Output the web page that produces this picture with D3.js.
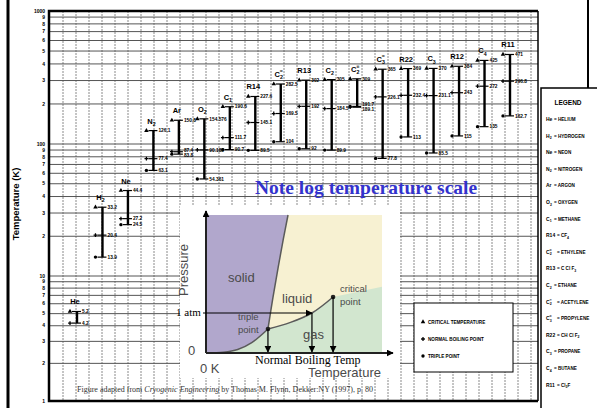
<!DOCTYPE html>
<html>
<head>
<meta charset="utf-8">
<script src="https://cdn.jsdelivr.net/npm/d3@7"></script>
<style>
body { margin: 0; background: #fff; }
svg { display: block; }
</style>
</head>
<body>
<script>
// substances, left to right
const categories = ["He", "H2", "Ne", "N2", "Ar", "O2", "C1", "R14", "C2=", "R13", "C2", "C2≡", "C3=", "R22", "C3", "R12", "C4", "R11"];
const criticalTemp = [5.2, 33.2, 44.4, 126.1, 150.8, 154.576, 190.6, 227.6, 282.5, 302, 305, 309, 365, 369, 370, 384, 425, 471];
const boilingPoint = [4.2, 20.4, 27.2, 77.4, 87.4, 90.188, 111.7, 145.1, 169.5, 192, 184.5, 189.1, 226.1, 232.4, 231.1, 243, 272, 296.8];
const triplePoint = [null, 13.9, 24.5, 63.1, 83.8, 54.361, 90.7, 89.5, 104, 92, 89.9, 191.7, 77.8, 113, 85.5, 115, 135, 162.7];

const yTicks = [1, 2, 3, 4, 5, 6, 7, 8, 9, 10, 20, 30, 40, 50, 60, 70, 80, 90, 100, 200, 300, 400, 500, 600, 700, 800, 900, 1000];
const yTickLabels = ["1", "2", "3", "4", "5", "6", "7", "8", "9", "10", "2", "3", "4", "5", "6", "7", "8", "9", "100", "2", "3", "4", "5", "6", "7", "8", "9", "1000"];

const legendKeys = ["He", "H2", "Ne", "N2", "Ar", "O2", "C1", "R14", "C2=", "R13", "C2", "C2≡", "C3=", "R22", "C3", "C4", "R11"];
const legendNames = ["HELIUM", "HYDROGEN", "NEON", "NITROGEN", "ARGON", "OXYGEN", "METHANE", "CF_4", "ETHYLENE", "C Cl F_3", "ETHANE", "ACETYLENE", "PROPYLENE", "CH Cl F_2", "PROPANE", "BUTANE", "Cl_3F"];
const symbolKeys = ["critical", "boiling", "triple"];
const symbolNames = ["CRITICAL TEMPERATURE", "NORMAL BOILING POINT", "TRIPLE POINT"];

// inset phase diagram, unit coordinates (temperature, pressure)
const sublimationCurve = [[0, 0], [0.1, 0.005], [0.18, 0.025], [0.26, 0.075], [0.352, 0.174]];
const fusionCurve = [[0.352, 0.174], [0.38, 0.4], [0.41, 0.62], [0.44, 0.83], [0.466, 1]];
const vaporCurve = [[0.352, 0.174], [0.48, 0.222], [0.602, 0.29], [0.722, 0.406]];
const tripleXY = [0.352, 0.174];
const criticalXY = [0.722, 0.406];
const oneAtmXY = [0.602, 0.29];

const W = 597, H = 408;
const svg = d3.select("body").append("svg").attr("width", W).attr("height", H);

const defs = svg.append("defs");
defs.append("marker").attr("id", "arr")
    .attr("viewBox", "0 0 10 10").attr("refX", 9).attr("refY", 5)
    .attr("markerWidth", 7).attr("markerHeight", 7).attr("orient", "auto")
    .attr("markerUnits", "userSpaceOnUse")
    .append("path").attr("d", "M0,0L10,5L0,10Z").attr("fill", "#000");

const plotL = 49, plotR = 538, plotT = 11, plotB = 401;
const y = d3.scaleLog().domain([1, 10, 100, 1000]).range([401, 276, 144, 11]);
const x = d3.scalePoint().domain(categories).range([77, 510]);

// grid
const grid = svg.append("g");
grid.selectAll("line.v")
    .data(d3.range(63, plotR, 13))
    .enter().append("line")
    .attr("x1", d => d).attr("x2", d => d)
    .attr("y1", plotT).attr("y2", plotB)
    .attr("stroke", "#8a8a8a").attr("stroke-width", 1)
    .attr("stroke-dasharray", "2,1");
grid.selectAll("line.h")
    .data(yTicks)
    .enter().append("line")
    .attr("x1", plotL).attr("x2", plotR)
    .attr("y1", d => y(d)).attr("y2", d => y(d))
    .attr("stroke", "#555").attr("stroke-width", 1);

// tick labels
svg.append("g").selectAll("text")
    .data(yTicks)
    .enter().append("text")
    .attr("x", 45).attr("y", d => y(d))
    .attr("dy", "0.35em")
    .attr("text-anchor", "end")
    .attr("font-family", "Arial, 'Liberation Sans', sans-serif")
    .attr("font-weight", "bold")
    .attr("font-size", 5)
    .text((d, i) => yTickLabels[i]);

// frame
svg.append("path")
    .attr("d", `M${plotR},${plotT}L${plotL},${plotT}L${plotL},${plotB}L${plotR},${plotB}`)
    .attr("fill", "none").attr("stroke", "#000").attr("stroke-width", 2.5);
svg.append("line")
    .attr("x1", plotR).attr("x2", plotR).attr("y1", plotT).attr("y2", plotB)
    .attr("stroke", "#000").attr("stroke-width", 1.5);

// slide border
svg.append("line").attr("x1", 8).attr("x2", 8).attr("y1", 0).attr("y2", H)
    .attr("stroke", "#000").attr("stroke-width", 3);
svg.append("line").attr("x1", 588).attr("x2", 588).attr("y1", 0).attr("y2", 88)
    .attr("stroke", "#000").attr("stroke-width", 2);

svg.append("text")
    .attr("transform", "translate(19,204) rotate(-90)")
    .attr("text-anchor", "middle")
    .attr("font-family", "Arial, 'Liberation Sans', sans-serif")
    .attr("font-weight", "bold").attr("font-size", 9.5)
    .text("Temperature (K)");

const symbolFor = {
    critical: d3.symbol().type(d3.symbolTriangle).size(9),
    boiling: d3.symbol().type(d3.symbolCross).size(8),
    triple: d3.symbol().type(d3.symbolCircle).size(9)
};

function chemName(sel, name, fs) {
    const m = name.match(/^([A-Z][a-z]?)(\d)([=≡])?$/);
    if (!m) { sel.text(name); return; }
    sel.append("tspan").text(m[1]);
    sel.append("tspan").attr("font-size", fs * 0.7).attr("dy", fs * 0.3).text(m[2]);
    if (m[3]) {
        sel.append("tspan").attr("font-size", fs * 0.7)
            .attr("dx", -fs * 0.42).attr("dy", -fs * 0.85).text(m[3]);
    }
}

// columns
const cols = svg.append("g");
categories.forEach((cat, i) => {
    const cx = x(cat);
    const pts = [
        { type: "critical", v: criticalTemp[i] },
        { type: "boiling", v: boilingPoint[i] },
        { type: "triple", v: triplePoint[i] }
    ].filter(p => p.v != null);
    pts.forEach(p => { p.y = y(p.v); p.ly = p.y; });
    const lo = d3.min(pts, p => p.v), hi = d3.max(pts, p => p.v);

    // push close labels apart
    const sorted = pts.slice().sort((a, b) => a.y - b.y);
    for (let k = 1; k < sorted.length; k++) {
        const gap = sorted[k].ly - sorted[k - 1].ly;
        if (gap < 5.5) {
            const d = (5.5 - gap) / 2;
            sorted[k - 1].ly -= d;
            sorted[k].ly += d;
        }
    }

    const g = cols.append("g");
    g.append("line")
        .attr("x1", cx).attr("x2", cx)
        .attr("y1", y(lo)).attr("y2", y(hi))
        .attr("stroke", "#000").attr("stroke-width", 2.4);

    g.selectAll("line.tick")
        .data(pts).enter().append("line")
        .attr("x1", cx - 5).attr("x2", cx + 4)
        .attr("y1", p => p.y).attr("y2", p => p.y)
        .attr("stroke", "#000").attr("stroke-width", 1.2);

    g.selectAll("path.sym")
        .data(pts).enter().append("path")
        .attr("transform", p => `translate(${cx - 7},${p.y})`)
        .attr("d", p => symbolFor[p.type]())
        .attr("fill", "#000");

    g.selectAll("text.val")
        .data(pts).enter().append("text")
        .attr("x", cx + 5).attr("y", p => p.ly).attr("dy", "0.35em")
        .attr("font-family", "Arial, 'Liberation Sans', sans-serif")
        .attr("font-weight", "bold").attr("font-size", 4.8)
        .text(p => String(p.v));

    const t = g.append("text")
        .attr("x", cx - 2).attr("y", y(hi) - 7)
        .attr("text-anchor", "middle")
        .attr("font-family", "Arial, 'Liberation Sans', sans-serif")
        .attr("font-weight", "bold").attr("font-size", 7.5);
    chemName(t, cat, 7.5);
});

// big legend
const lg = svg.append("g");
lg.append("rect").attr("x", 541).attr("y", 88).attr("width", 70).attr("height", 330)
    .attr("fill", "#fff").attr("stroke", "#000").attr("stroke-width", 1.5);
lg.append("text").attr("x", 568).attr("y", 105).attr("text-anchor", "middle")
    .attr("font-family", "Arial, 'Liberation Sans', sans-serif")
    .attr("font-weight", "bold").attr("font-size", 6.5).text("LEGEND");
legendKeys.forEach((k, i) => {
    const ly = 121 + i * 16.6;
    const kt = lg.append("text").attr("x", 546).attr("y", ly)
        .attr("font-family", "Arial, 'Liberation Sans', sans-serif")
        .attr("font-weight", "bold").attr("font-size", 5);
    chemName(kt, k, 5);
    const nt = lg.append("text").attr("x", k.length > 2 ? 557 : 554).attr("y", ly)
        .attr("font-family", "Arial, 'Liberation Sans', sans-serif")
        .attr("font-weight", "bold").attr("font-size", 4.6);
    nt.append("tspan").text("= ");
    legendNames[i].split(/_(\d)/).forEach((part, j) => {
        if (j % 2 === 1) nt.append("tspan").attr("font-size", 3.5).attr("dy", 1.5).text(part);
        else if (part) nt.append("tspan").attr("dy", j > 0 ? -1.5 : 0).text(part);
    });
});

// symbol legend
const sg = svg.append("g");
sg.append("rect").attr("x", 414).attr("y", 303).attr("width", 99).attr("height", 69)
    .attr("fill", "#fff").attr("stroke", "#000").attr("stroke-width", 1);
symbolKeys.forEach((k, i) => {
    const ly = 322 + i * 17;
    sg.append("path").attr("transform", `translate(423,${ly})`)
        .attr("d", symbolFor[k]()).attr("fill", "#000");
    sg.append("text").attr("x", 428).attr("y", ly).attr("dy", "0.35em")
        .attr("font-family", "Arial, 'Liberation Sans', sans-serif")
        .attr("font-weight", "bold").attr("font-size", 4.6)
        .text(symbolNames[i]);
});

// note
svg.append("text").attr("x", 255).attr("y", 194)
    .attr("font-family", "'Times New Roman', 'Liberation Serif', serif")
    .attr("font-weight", "bold").attr("font-size", 19.5).attr("fill", "#3333cc")
    .text("Note log temperature scale");

// inset phase diagram
const inset = svg.append("g");
inset.append("rect").attr("x", 180).attr("y", 205).attr("width", 220).attr("height", 173).attr("fill", "#fff");
const px = d3.scaleLinear().domain([0, 1]).range([206, 382]);
const py = d3.scaleLinear().domain([0, 1]).range([353, 215]);
const curve = d3.line().x(d => px(d[0])).y(d => py(d[1])).curve(d3.curveCatmullRom);
const pt = d => `${px(d[0])},${py(d[1])}`;

inset.append("rect").attr("x", px(0)).attr("y", py(1))
    .attr("width", px(1) - px(0)).attr("height", py(0) - py(1)).attr("fill", "#f7f1d2");
inset.append("path")
    .attr("d", curve(sublimationCurve) + curve(fusionCurve).replace(/^M/, "L") + `L${pt([0, 1])}Z`)
    .attr("fill", "#b1a7cc");
inset.append("path")
    .attr("d", curve(sublimationCurve) + curve(vaporCurve).replace(/^M/, "L") + `L${pt([1, 0.48])}L${pt([1, 0])}Z`)
    .attr("fill", "#d2e6cf");
[sublimationCurve, fusionCurve, vaporCurve].forEach(c => {
    inset.append("path").attr("d", curve(c)).attr("fill", "none")
        .attr("stroke", "#5a5a5a").attr("stroke-width", 1.5);
});
inset.append("line").attr("x1", px(0)).attr("y1", py(0)).attr("x2", px(0)).attr("y2", py(1) - 4)
    .attr("stroke", "#222").attr("stroke-width", 2).attr("marker-end", "url(#arr)");
inset.append("line").attr("x1", px(0)).attr("y1", py(0)).attr("x2", px(1) + 11).attr("y2", py(0))
    .attr("stroke", "#222").attr("stroke-width", 2).attr("marker-end", "url(#arr)");

[tripleXY, criticalXY].forEach(d => {
    inset.append("circle").attr("cx", px(d[0])).attr("cy", py(d[1])).attr("r", 2.3).attr("fill", "#222");
});
inset.append("line").attr("x1", 203).attr("y1", py(oneAtmXY[1])).attr("x2", px(oneAtmXY[0])).attr("y2", py(oneAtmXY[1]))
    .attr("stroke", "#000").attr("stroke-width", 1.2).attr("marker-end", "url(#arr)");
[oneAtmXY, tripleXY, criticalXY].forEach(d => {
    inset.append("line").attr("x1", px(d[0])).attr("y1", py(d[1])).attr("x2", px(d[0])).attr("y2", py(0) - 1)
        .attr("stroke", "#000").attr("stroke-width", 1.2).attr("marker-end", "url(#arr)");
});

const sans = "Arial, 'Liberation Sans', sans-serif";
const serif = "'Times New Roman', 'Liberation Serif', serif";
const insetText = [
    { t: "solid", x: 228, y: 282, s: 13 },
    { t: "liquid", x: 282, y: 303, s: 13 },
    { t: "gas", x: 303, y: 339, s: 13 },
    { t: "critical", x: 340, y: 292, s: 9.5 },
    { t: "point", x: 340, y: 305, s: 9.5 },
    { t: "triple", x: 238, y: 320, s: 9.5 },
    { t: "point", x: 238, y: 333, s: 9.5 },
    { t: "0", x: 188, y: 355, s: 13 },
    { t: "0 K", x: 200, y: 373, s: 13 },
    { t: "Temperature", x: 308, y: 377, s: 13 }
];
inset.selectAll("text.lbl").data(insetText).enter().append("text")
    .attr("x", d => d.x).attr("y", d => d.y)
    .attr("font-family", sans).attr("font-size", d => d.s).attr("fill", "#4a4a4a")
    .text(d => d.t);
inset.append("text").attr("transform", "translate(188,270) rotate(-90)")
    .attr("text-anchor", "middle").attr("font-family", sans).attr("font-size", 13).attr("fill", "#4a4a4a")
    .text("Pressure");
inset.append("text").attr("x", 176).attr("y", 316)
    .attr("font-family", serif).attr("font-size", 11).text("1 atm");
inset.append("text").attr("x", 255).attr("y", 364)
    .attr("font-family", serif).attr("font-size", 12).text("Normal Boiling Temp");

// caption
const cap = svg.append("text").attr("x", 77).attr("y", 392)
    .attr("font-family", serif).attr("font-size", 8).attr("fill", "#333");
cap.append("tspan").text("Figure adapted from ");
cap.append("tspan").attr("font-style", "italic").text("Cryogenic Engineering");
cap.append("tspan").text(" by Thomas M. Flynn, Dekker:NY (1997), p. 80");
</script>
</body>
</html>
